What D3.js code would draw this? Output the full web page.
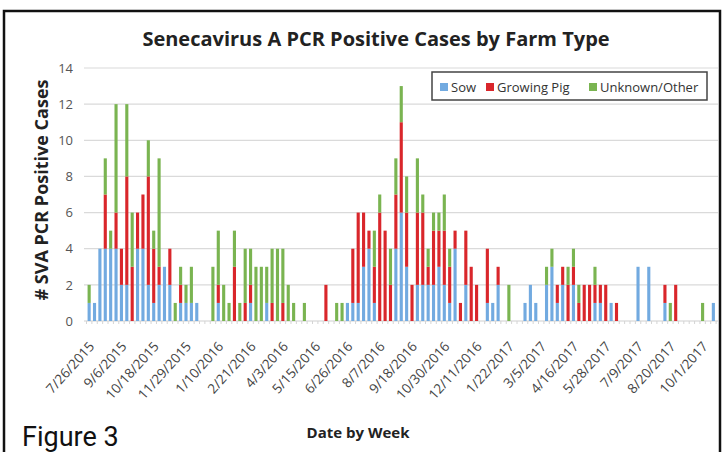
<!DOCTYPE html>
<html>
<head>
<meta charset="utf-8">
<script src="https://cdn.jsdelivr.net/npm/d3@7"></script>
<style>
  body { margin: 0; background: #fff; }
  svg { display: block; }
</style>
</head>
<body>
<svg id="chart"></svg>
<script>
const width = 722;
const height = 452;

// weekly categories, first week 7/26/2015, 117 weeks
const startDate = new Date(2015, 6, 26);
const weekCount = 117;
const weeks = d3.range(weekCount).map(i => d3.timeDay.offset(startDate, i * 7));

const sow = [1,1,4,4,4,4,2,2,0,4, 4,2,1,2,3,2,0,1,1,1, 1,0,0,0,1,0,0,0,0,0,
             1,0,0,1,0,0,0,0,0,0, 0,0,0,0,0,0,0,0,1,1, 1,3,4,1,0,0,0,4,6,3,
             0,2,2,2,2,3,2,1,4,0, 2,0,0,0,1,1,2,0,0,0, 0,1,2,1,0,2,3,1,2,0,
             2,0,0,0,1,1,0,1,0,0, 0,0,3,0,3,0,0,1,0,0, 0,0,0,0,0,0,1];
const growingPig = [0,0,0,3,0,2,2,6,3,2, 3,6,3,1,0,2,0,1,0,0, 0,0,0,0,1,0,0,3,0,1,
             1,0,0,0,1,0,1,0,0,0, 0,0,0,0,2,0,0,0,0,3, 5,3,1,2,6,5,2,3,5,3,
             2,4,4,1,3,2,3,2,1,1, 3,3,2,0,3,0,1,0,0,0, 0,0,0,0,0,0,0,1,1,2,
             1,1,2,2,1,1,2,0,1,0, 0,0,0,0,0,0,0,1,0,2, 0,0,0,0,0,0,0];
const unknownOther = [1,0,0,2,1,6,0,4,3,0, 0,2,1,6,0,0,1,1,1,2, 0,0,0,3,3,2,1,2,1,3,
             2,3,3,2,3,4,3,2,1,0, 1,0,0,0,0,0,1,1,0,0, 0,0,0,2,1,0,2,2,2,2,
             0,3,1,1,1,1,2,1,0,0, 0,0,0,0,0,0,0,0,2,0, 0,0,0,0,0,1,1,0,0,1,
             1,1,0,0,1,0,0,0,0,0, 0,0,0,0,0,0,0,0,1,0, 0,0,0,0,1,0,0];

const seriesNames = ['Sow', 'Growing Pig', 'Unknown/Other'];
const seriesKeys = ['sow', 'growingPig', 'unknownOther'];
const seriesColors = ['#72aae0', '#d9262b', '#7ab451'];

const yTicks = [0, 2, 4, 6, 8, 10, 12, 14];
const tickEvery = 6;

const fmtDate = d => `${d.getMonth() + 1}/${d.getDate()}/${d.getFullYear()}`;

const table = weeks.map((w, i) => ({
  week: i, date: w, sow: sow[i], growingPig: growingPig[i], unknownOther: unknownOther[i]
}));

const svg = d3.select('#chart')
  .attr('width', width)
  .attr('height', height);

const plotLeft = 86.5;
const plotRight = 716;
const plotTop = 68;
const plotBottom = 321;

const xScale = d3.scaleBand()
  .domain(d3.range(weekCount))
  .range([plotLeft, plotRight])
  .paddingInner(0.42)
  .paddingOuter(0.2);

const yScale = d3.scaleLinear()
  .domain([0, 14])
  .range([plotBottom, plotTop]);

// outer frame
svg.append('rect')
  .attr('x', 4).attr('y', 11)
  .attr('width', 716).attr('height', 450)
  .attr('fill', 'none')
  .attr('stroke', '#111')
  .attr('stroke-width', 2.5);

// gridlines
svg.append('g')
  .selectAll('line')
  .data(yTicks)
  .enter()
  .append('line')
  .attr('x1', 84).attr('x2', 718)
  .attr('y1', d => yScale(d)).attr('y2', d => yScale(d))
  .attr('stroke', d => d === 0 ? '#cfcfcf' : '#dadada')
  .attr('stroke-width', 1.2);

// small week ticks under the axis
svg.append('g')
  .selectAll('line')
  .data(d3.range(weekCount + 1))
  .enter()
  .append('line')
  .attr('x1', i => plotLeft + i * xScale.step())
  .attr('x2', i => plotLeft + i * xScale.step())
  .attr('y1', plotBottom).attr('y2', plotBottom + 3)
  .attr('stroke', '#d4d4d4')
  .attr('stroke-width', 1);

// y axis labels
const yAxis = d3.axisLeft(yScale).tickValues(yTicks).tickSize(0).tickPadding(0);
const yG = svg.append('g')
  .attr('transform', `translate(73, 0)`)
  .call(yAxis);
yG.select('.domain').remove();
yG.selectAll('text')
  .attr('font-family', 'Open Sans, sans-serif')
  .attr('font-size', 13)
  .attr('fill', '#555');

// stacked bars
const stack = d3.stack().keys(seriesKeys);
const stacked = stack(table);

svg.append('g')
  .selectAll('g')
  .data(stacked)
  .enter()
  .append('g')
  .attr('fill', (d, i) => seriesColors[i])
  .selectAll('rect')
  .data(d => d.filter(p => p[1] > p[0]))
  .enter()
  .append('rect')
  .attr('x', d => xScale(d.data.week))
  .attr('y', d => yScale(d[1]))
  .attr('width', xScale.bandwidth())
  .attr('height', d => yScale(d[0]) - yScale(d[1]));

// x axis
const xAxis = d3.axisBottom(xScale)
  .tickValues(d3.range(0, weekCount, tickEvery))
  .tickFormat(i => fmtDate(weeks[i]))
  .tickSize(0)
  .tickPadding(0);

const xG = svg.append('g')
  .attr('transform', `translate(0, ${plotBottom})`)
  .call(xAxis);
xG.select('.domain').remove();
xG.selectAll('text')
  .attr('font-family', 'Open Sans, sans-serif')
  .attr('font-size', 13.5)
  .attr('fill', '#444')
  .attr('text-anchor', 'end')
  .attr('dy', 0)
  .attr('transform', 'translate(6, 26) rotate(-48)');

// title
svg.append('text')
  .attr('x', 376).attr('y', 46)
  .attr('text-anchor', 'middle')
  .attr('font-family', 'Open Sans, sans-serif')
  .attr('font-weight', 'bold')
  .attr('font-size', 20)
  .attr('fill', '#222')
  .text('Senecavirus A PCR Positive Cases by Farm Type');

// y title
svg.append('text')
  .attr('transform', `translate(48, ${(plotTop + 312) / 2}) rotate(-90)`)
  .attr('text-anchor', 'middle')
  .attr('font-family', 'Open Sans, sans-serif')
  .attr('font-weight', 'bold')
  .attr('font-size', 18)
  .attr('fill', '#222')
  .text('# SVA PCR Positive Cases');

// x title
svg.append('text')
  .attr('x', 358).attr('y', 438)
  .attr('text-anchor', 'middle')
  .attr('font-family', 'Open Sans, sans-serif')
  .attr('font-weight', 'bold')
  .attr('font-size', 15)
  .attr('fill', '#222')
  .text('Date by Week');

// figure label
svg.append('text')
  .attr('x', 22).attr('y', 446)
  .attr('font-family', 'Roboto, sans-serif')
  .attr('font-size', 27)
  .attr('fill', '#111')
  .text('Figure 3');

// legend
const legend = svg.append('g').attr('transform', 'translate(432, 72)');
legend.append('rect')
  .attr('width', 275).attr('height', 28)
  .attr('fill', '#fff')
  .attr('stroke', '#444')
  .attr('stroke-width', 1.5);

const legendX = [8, 54, 157];
const items = legend.selectAll('g.item')
  .data(seriesNames)
  .enter()
  .append('g')
  .attr('class', 'item')
  .attr('transform', (d, i) => `translate(${legendX[i]}, 15)`);
items.append('rect')
  .attr('x', 0).attr('y', -4)
  .attr('width', 8).attr('height', 8)
  .attr('fill', (d, i) => seriesColors[i]);
items.append('text')
  .attr('x', 11).attr('y', 5)
  .attr('font-family', 'Open Sans, sans-serif')
  .attr('font-size', 13)
  .attr('fill', '#333')
  .text(d => d);
</script>
</body>
</html>
